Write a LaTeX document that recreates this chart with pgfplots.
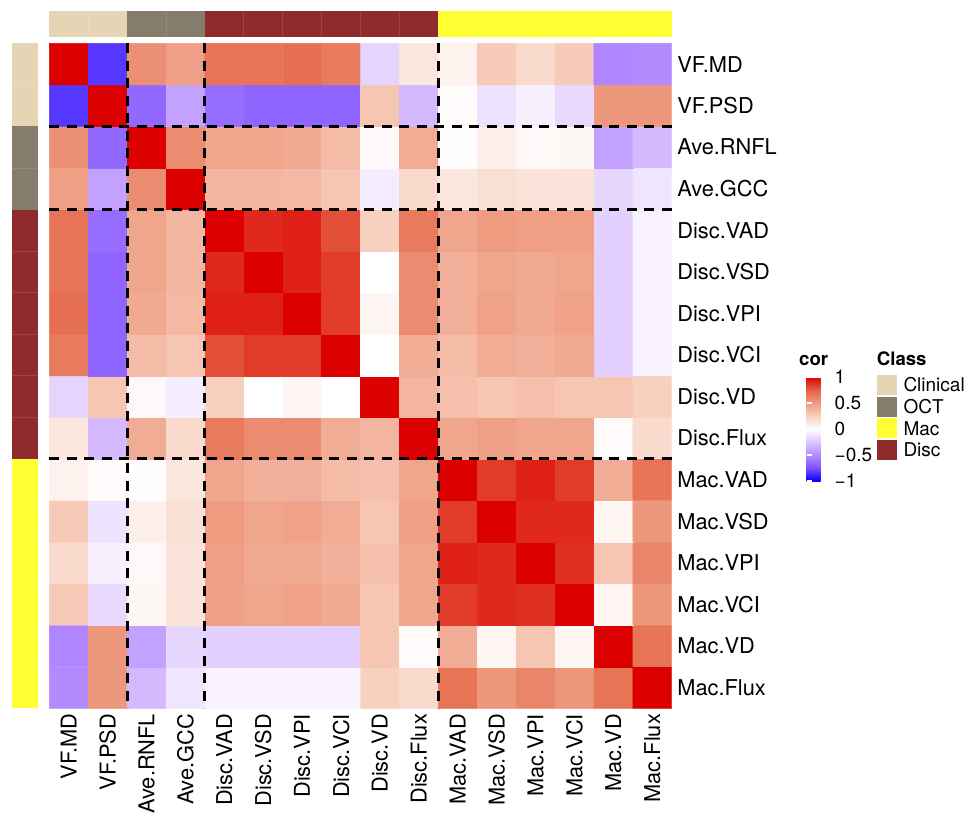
\documentclass[border=0pt]{standalone}
\usepackage{pgfplots}
\pgfplotsset{compat=1.18}
\usepackage{fontspec}
\setmainfont{TeX Gyre Heros}
\definecolor{clin}{RGB}{229,213,181}
\definecolor{oct}{RGB}{133,124,108}
\definecolor{disc}{RGB}{143,43,45}
\definecolor{mac}{RGB}{255,255,51}
\newcommand\lab{\fontsize{21.8bp}{26bp}\selectfont}
\newcommand\leg{\fontsize{19bp}{23bp}\selectfont}
\newcommand\legt{\fontsize{18.6bp}{22bp}\selectfont\bfseries}
\begin{document}
\begin{tikzpicture}
\useasboundingbox (0,0) rectangle (968bp,-824bp);
\coordinate (cbnw) at (798bp,-377bp);
\begin{axis}[
  at={(49.3bp,-708.3bp)}, anchor=south west,
  scale only axis, width=622.4bp, height=665bp,
  xmin=0.5, xmax=16.5, ymin=0.5, ymax=16.5,
  clip=false,
  axis line style={draw=none},
  major tick length=0pt, tick style={draw=none},
  xtick={1,...,16}, ytick={1,...,16},
  xticklabels={VF.MD, VF.PSD, Ave.RNFL, Ave.GCC, Disc.VAD, Disc.VSD, Disc.VPI, Disc.VCI, Disc.VD, Disc.Flux, Mac.VAD, Mac.VSD, Mac.VPI, Mac.VCI, Mac.VD, Mac.Flux},
  yticklabels={Mac.Flux, Mac.VD, Mac.VCI, Mac.VPI, Mac.VSD, Mac.VAD, Disc.Flux, Disc.VD, Disc.VCI, Disc.VPI, Disc.VSD, Disc.VAD, Ave.GCC, Ave.RNFL, VF.PSD, VF.MD},
  yticklabel pos=right,
  xticklabel style={font=\lab, rotate=90, anchor=east, inner xsep=5.5bp, inner ysep=0pt},
  yticklabel style={font=\lab, anchor=west, inner xsep=5.5bp, inner ysep=0pt},
  colormap={cor}{rgb255=(0,0,255) rgb255=(126,81,255) rgb255=(179,139,255) rgb255=(220,196,255) rgb255=(255,255,255) rgb255=(248,208,192) rgb255=(238,155,128) rgb255=(228,100,70) rgb255=(221,0,0)},
  point meta min=-1, point meta max=1,
  colorbar,
  colorbar style={
    at={(cbnw)}, anchor=north west,
    scale only axis, width=24bp, height=104bp,
    axis line style={draw=none},
    xtick=\empty,
    ytick={-1,-0.5,0,0.5,1},
    yticklabels={−1,−0.5,0,0.5,1},
    ytick pos=both, yticklabel pos=right,
    ytick align=inside,
    major tick length=5bp,
    ytick style={draw=white, line width=1.2bp},
    yticklabel style={font=\leg, anchor=west, inner xsep=4bp, inner ysep=0pt, rotate=0},
  },
]
\addplot[matrix plot*, mesh/cols=16, point meta=explicit] coordinates {
(1,1)[-0.50] (2,1)[0.52] (3,1)[-0.30] (4,1)[-0.11] (5,1)[-0.05] (6,1)[-0.05] (7,1)[-0.05] (8,1)[-0.05] (9,1)[0.25] (10,1)[0.20] (11,1)[0.68] (12,1)[0.52] (13,1)[0.60] (14,1)[0.52] (15,1)[0.68] (16,1)[1]
(1,2)[-0.52] (2,2)[0.52] (3,2)[-0.40] (4,2)[-0.17] (5,2)[-0.20] (6,2)[-0.20] (7,2)[-0.20] (8,2)[-0.20] (9,2)[0.30] (10,2)[0.02] (11,2)[0.42] (12,2)[0.05] (13,2)[0.30] (14,2)[0.05] (15,2)[1] (16,2)[0.68]
(1,3)[0.28] (2,3)[-0.16] (3,3)[0.04] (4,3)[0.15] (5,3)[0.48] (6,3)[0.45] (7,3)[0.47] (8,3)[0.43] (9,3)[0.30] (10,3)[0.45] (11,3)[0.85] (12,3)[0.90] (13,3)[0.88] (14,3)[1] (15,3)[0.05] (16,3)[0.52]
(1,4)[0.20] (2,4)[-0.06] (3,4)[0.03] (4,4)[0.15] (5,4)[0.48] (6,4)[0.43] (7,4)[0.43] (8,4)[0.40] (9,4)[0.33] (10,4)[0.45] (11,4)[0.92] (12,4)[0.90] (13,4)[1] (14,4)[0.88] (15,4)[0.30] (16,4)[0.60]
(1,5)[0.28] (2,5)[-0.12] (3,5)[0.08] (4,5)[0.17] (5,5)[0.50] (6,5)[0.45] (7,5)[0.47] (8,5)[0.42] (9,5)[0.30] (10,5)[0.48] (11,5)[0.85] (12,5)[1] (13,5)[0.90] (14,5)[0.90] (15,5)[0.05] (16,5)[0.52]
(1,6)[0.07] (2,6)[0.02] (3,6)[0.01] (4,6)[0.13] (5,6)[0.45] (6,6)[0.40] (7,6)[0.40] (8,6)[0.35] (9,6)[0.33] (10,6)[0.45] (11,6)[1] (12,6)[0.85] (13,6)[0.92] (14,6)[0.85] (15,6)[0.42] (16,6)[0.68]
(1,7)[0.13] (2,7)[-0.30] (3,7)[0.42] (4,7)[0.20] (5,7)[0.65] (6,7)[0.57] (7,7)[0.57] (8,7)[0.42] (9,7)[0.38] (10,7)[1] (11,7)[0.45] (12,7)[0.48] (13,7)[0.45] (14,7)[0.45] (15,7)[0.02] (16,7)[0.20]
(1,8)[-0.18] (2,8)[0.30] (3,8)[0.03] (4,8)[-0.08] (5,8)[0.25] (6,8)[0.00] (7,8)[0.05] (8,8)[0.00] (9,8)[1] (10,8)[0.38] (11,8)[0.33] (12,8)[0.30] (13,8)[0.33] (14,8)[0.30] (15,8)[0.30] (16,8)[0.25]
(1,9)[0.65] (2,9)[-0.67] (3,9)[0.35] (4,9)[0.30] (5,9)[0.80] (6,9)[0.85] (7,9)[0.85] (8,9)[1] (9,9)[0.00] (10,9)[0.42] (11,9)[0.35] (12,9)[0.42] (13,9)[0.40] (14,9)[0.43] (15,9)[-0.20] (16,9)[-0.05]
(1,10)[0.70] (2,10)[-0.67] (3,10)[0.43] (4,10)[0.36] (5,10)[0.92] (6,10)[0.92] (7,10)[1] (8,10)[0.85] (9,10)[0.05] (10,10)[0.57] (11,10)[0.40] (12,10)[0.47] (13,10)[0.43] (14,10)[0.47] (15,10)[-0.20] (16,10)[-0.05]
(1,11)[0.68] (2,11)[-0.67] (3,11)[0.45] (4,11)[0.37] (5,11)[0.90] (6,11)[1] (7,11)[0.92] (8,11)[0.85] (9,11)[0.00] (10,11)[0.57] (11,11)[0.40] (12,11)[0.45] (13,11)[0.43] (14,11)[0.45] (15,11)[-0.20] (16,11)[-0.05]
(1,12)[0.68] (2,12)[-0.63] (3,12)[0.45] (4,12)[0.37] (5,12)[1] (6,12)[0.90] (7,12)[0.92] (8,12)[0.80] (9,12)[0.25] (10,12)[0.65] (11,12)[0.45] (12,12)[0.50] (13,12)[0.48] (14,12)[0.48] (15,12)[-0.20] (16,12)[-0.05]
(1,13)[0.48] (2,13)[-0.40] (3,13)[0.57] (4,13)[1] (5,13)[0.37] (6,13)[0.37] (7,13)[0.36] (8,13)[0.30] (9,13)[-0.08] (10,13)[0.20] (11,13)[0.13] (12,13)[0.17] (13,13)[0.15] (14,13)[0.15] (15,13)[-0.17] (16,13)[-0.11]
(1,14)[0.55] (2,14)[-0.65] (3,14)[1] (4,14)[0.57] (5,14)[0.45] (6,14)[0.45] (7,14)[0.43] (8,14)[0.35] (9,14)[0.03] (10,14)[0.42] (11,14)[0.01] (12,14)[0.08] (13,14)[0.03] (14,14)[0.04] (15,14)[-0.40] (16,14)[-0.30]
(1,15)[-0.83] (2,15)[1] (3,15)[-0.65] (4,15)[-0.40] (5,15)[-0.63] (6,15)[-0.67] (7,15)[-0.67] (8,15)[-0.67] (9,15)[0.30] (10,15)[-0.30] (11,15)[0.02] (12,15)[-0.12] (13,15)[-0.06] (14,15)[-0.16] (15,15)[0.52] (16,15)[0.52]
(1,16)[1] (2,16)[-0.83] (3,16)[0.55] (4,16)[0.48] (5,16)[0.68] (6,16)[0.68] (7,16)[0.70] (8,16)[0.65] (9,16)[-0.18] (10,16)[0.13] (11,16)[0.07] (12,16)[0.28] (13,16)[0.20] (14,16)[0.28] (15,16)[-0.52] (16,16)[-0.50]
};
% group separators
\addplot[black, line width=3bp, dash pattern=on 10bp off 7.5bp] coordinates {(2.5,16.5) (2.5,0.5)};
\addplot[black, line width=3bp, dash pattern=on 10bp off 7.5bp] coordinates {(4.5,16.5) (4.5,0.5)};
\addplot[black, line width=3bp, dash pattern=on 10bp off 7.5bp] coordinates {(10.5,16.5) (10.5,0.5)};
\addplot[black, line width=3bp, dash pattern=on 10bp off 7.5bp] coordinates {(0.5,14.5) (16.5,14.5)};
\addplot[black, line width=3bp, dash pattern=on 10bp off 7.5bp] coordinates {(0.5,12.5) (16.5,12.5)};
\addplot[black, line width=3bp, dash pattern=on 10bp off 7.5bp] coordinates {(0.5,6.5) (16.5,6.5)};
% top annotation
\addplot[draw=none, fill=clin] coordinates {(0.5,16.659) (2.5,16.659) (2.5,17.284) (0.5,17.284)} -- cycle;
\addplot[draw=none, fill=oct] coordinates {(2.5,16.659) (4.5,16.659) (4.5,17.284) (2.5,17.284)} -- cycle;
\addplot[draw=none, fill=disc] coordinates {(4.5,16.659) (10.5,16.659) (10.5,17.284) (4.5,17.284)} -- cycle;
\addplot[draw=none, fill=mac] coordinates {(10.5,16.659) (16.5,16.659) (16.5,17.284) (10.5,17.284)} -- cycle;
% left annotation
\addplot[draw=none, fill=clin] coordinates {(-0.467,14.5) (0.217,14.5) (0.217,16.5) (-0.467,16.5)} -- cycle;
\addplot[draw=none, fill=oct] coordinates {(-0.467,12.5) (0.217,12.5) (0.217,14.5) (-0.467,14.5)} -- cycle;
\addplot[draw=none, fill=disc] coordinates {(-0.467,6.5) (0.217,6.5) (0.217,12.5) (-0.467,12.5)} -- cycle;
\addplot[draw=none, fill=mac] coordinates {(-0.467,0.5) (0.217,0.5) (0.217,6.5) (-0.467,6.5)} -- cycle;
\pgfplotsinvokeforeach{1.5,3.5,5.5,6.5,7.5,8.5,9.5,11.5,12.5,13.5,14.5,15.5}{
  \addplot[white, opacity=0.12, line width=0.8bp] coordinates {(#1,16.659) (#1,17.284)};
  \addplot[white, opacity=0.12, line width=0.8bp] coordinates {(-0.467,17-#1) (0.217,17-#1)};
}
\end{axis}
% legend titles
\node[anchor=base west, inner sep=0pt, font=\legt] at (799bp,-365bp) {cor};
\node[anchor=base west, inner sep=0pt, font=\legt] at (876.7bp,-365bp) {Class};
% class legend keys
\fill[clin] (876.7bp,-375bp) rectangle (896.7bp,-395bp);
\fill[oct] (876.7bp,-396.7bp) rectangle (896.7bp,-416.7bp);
\fill[mac] (876.7bp,-418.4bp) rectangle (896.7bp,-438.4bp);
\fill[disc] (876.7bp,-440.1bp) rectangle (896.7bp,-460.1bp);
\node[anchor=base west, inner sep=0pt, font=\leg] at (903.3bp,-391.8bp) {Clinical};
\node[anchor=base west, inner sep=0pt, font=\leg] at (903.3bp,-413.5bp) {OCT};
\node[anchor=base west, inner sep=0pt, font=\leg] at (903.3bp,-435.2bp) {Mac};
\node[anchor=base west, inner sep=0pt, font=\leg] at (903.3bp,-456.9bp) {Disc};
\end{tikzpicture}
\end{document}
